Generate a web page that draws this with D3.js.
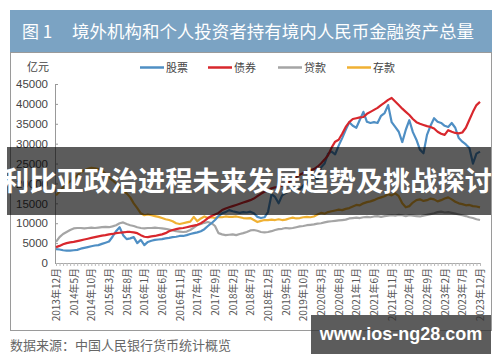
<!DOCTYPE html>
<html><head><meta charset="utf-8">
<script src="https://cdn.jsdelivr.net/npm/d3@7"></script>
<style>
html,body{margin:0;padding:0;background:#fff;}
svg{display:block;}
text{font-family:"Liberation Sans",Arial,"Noto Sans CJK SC",sans-serif;}
.cjk{font-family:"Noto Sans CJK SC","Liberation Sans",sans-serif;}
</style></head><body>
<script>
const seriesNames = ["股票","债券","贷款","存款"];
const seriesColors = ["#4f8fc4","#d8272d","#a5a5a5","#f0b133"];
const monthLabels = ["2013年12月","2014年5月","2014年10月","2015年3月","2015年8月","2016年1月","2016年6月","2016年11月","2017年4月","2017年9月","2018年2月","2018年7月","2018年12月","2019年5月","2019年10月","2020年3月","2020年8月","2021年1月","2021年6月","2021年11月","2022年4月","2022年9月","2023年2月","2023年7月","2023年12月"];
const yTicks = [0,5000,10000,15000,20000,25000,30000,35000,40000,45000];

const stocks = [3500,3400,3200,3100,3100,3200,3300,3600,3800,4000,4200,4400,4500,4800,5100,5400,6600,8000,9000,7000,6000,6200,6500,5000,5800,4500,5300,5600,5800,5900,6000,6200,6300,6500,6600,6800,6800,7000,7300,7500,7700,8000,8500,9300,10000,10800,11800,12500,12800,13300,13000,12800,12600,12800,12700,12900,12500,11600,11300,11500,12800,17300,16600,15000,17000,17600,18000,18800,19100,18500,19500,20200,21000,21800,21000,24000,25000,27500,28000,27300,29500,31400,33500,35400,34500,34000,36000,38000,35500,35200,35400,35200,37000,37700,39700,35400,34200,33000,30400,33500,35900,32900,31000,28500,27600,32200,34500,36400,35500,35200,34500,34200,35200,34000,31400,30500,29800,28900,25000,27500,28000];
const bonds = [4000,4300,4700,5000,5200,5300,5500,5700,5900,6100,6300,6500,6700,6900,7000,7200,7300,7500,7600,7700,7800,7800,7700,7500,7000,6600,6500,6700,6800,7000,7200,7500,8000,8300,8500,8700,8800,9000,9200,9400,9600,10000,10600,11300,11800,12200,12600,13300,13700,14000,14300,14600,14900,15200,15500,15800,16200,16800,17400,17900,18200,18800,19000,19100,19500,20000,20400,20900,21600,22200,22600,23000,23300,23600,24200,25000,26000,27100,29000,30500,31000,32500,34200,35400,36200,36400,36600,36700,37500,38000,38500,39000,39700,40300,41000,41500,40600,39700,38800,38000,37200,36200,35400,35000,34700,34400,34200,33800,33000,32500,32200,33400,33000,32700,32600,32800,34000,36000,38000,39700,40500];
const loans = [5300,6500,7300,7800,8300,8700,8800,8800,8700,8800,8900,8800,8900,9000,9100,9000,9200,9500,10000,10200,9800,9500,9300,9000,8800,8700,8800,8800,8900,8800,8700,8600,8400,8200,8000,7900,7800,7900,8300,8900,9500,9800,10100,10300,10000,9300,7500,7200,7000,7100,7200,7000,7300,7500,7800,8200,8300,8100,7800,7700,7800,8000,8300,8500,8600,8800,8700,8800,9000,9200,9300,9500,9600,9700,9900,10000,10200,10400,10500,10600,10700,10800,10900,11200,11300,11400,11300,11500,11600,11500,11700,11800,11600,11800,11900,12000,11900,12100,12000,11800,12000,11900,11800,11700,11900,12100,12300,12500,12800,12900,12700,12800,12600,12400,12200,12000,11800,11500,11300,11000,10800];
const deposits = [17000,18000,19000,19800,20500,21200,22000,22800,23300,23700,23900,23800,23600,23200,22500,21500,20800,20000,19000,18200,17500,16500,15000,13800,12500,12000,12200,12000,11800,11600,11300,11000,10800,10500,10000,9800,10000,10200,10400,11600,10500,11200,11700,11300,11500,11300,11600,11500,11700,11600,11600,11700,11500,11300,11200,11300,10800,10300,10600,10800,10800,10900,10800,11000,10800,10900,11200,11400,11200,11300,11500,11600,11500,11700,12200,12600,12400,12800,13000,13200,13400,13300,13600,13800,14200,14600,14500,15000,15300,15500,15800,16200,16500,16800,17300,17000,17500,16800,15000,14000,14300,15200,15800,16000,15600,15800,16200,16000,15500,15800,16200,16500,16000,15400,15000,14800,14500,14600,14300,14200,14000];

const W = 500, H = 362;
const svg = d3.select("body").append("svg").attr("width", W).attr("height", H);

// title bar
svg.append("rect").attr("x",10).attr("y",10).attr("width",482).attr("height",42).attr("fill","#7ba3c3");
svg.append("text").attr("class","cjk").attr("x",22).attr("y",38).attr("fill","#fff").attr("font-size",17)
  .text("图 1");
svg.append("text").attr("class","cjk").attr("x",72).attr("y",38).attr("fill","#fff").attr("font-size",17)
  .attr("textLength",402).attr("lengthAdjust","spacingAndGlyphs")
  .text("境外机构和个人投资者持有境内人民币金融资产总量");
// frame
svg.append("rect").attr("x",10.5).attr("y",52.5).attr("width",481).attr("height",278).attr("fill","none").attr("stroke","#9a9a9a");

const x = d3.scaleLinear().domain([0,120]).range([56,480]);
const y = d3.scaleLinear().domain([0,45000]).range([263,84]);

// y axis
const ya = svg.append("g").attr("transform","translate(55,0)")
  .call(d3.axisLeft(y).tickValues(yTicks).tickSizeInner(-3).tickSizeOuter(-3).tickPadding(7).tickFormat(d3.format("d")));
ya.select(".domain").attr("stroke","#999");
ya.selectAll(".tick line").attr("stroke","#999");
ya.selectAll("text").attr("fill","#444").attr("font-size",11.5).attr("font-family","Liberation Sans, Arial, sans-serif");
svg.append("text").attr("class","cjk").attr("x",27).attr("y",71).attr("font-size",11).attr("fill","#444").text("亿元");

// x axis minor ticks
const xa = svg.append("g").attr("transform","translate(0,263)")
  .call(d3.axisBottom(x).tickValues(d3.range(0,121)).tickSizeInner(3).tickSizeOuter(0).tickFormat(""));
xa.select(".domain").attr("stroke","#aaa");
xa.selectAll(".tick line").attr("stroke","#bbb");
// x labels
const xl = svg.append("g").attr("transform","translate(0,263)")
  .call(d3.axisBottom(x).tickValues(d3.range(0,121,5)).tickSize(0).tickFormat((d,i)=>monthLabels[i]));
xl.select(".domain").remove();
xl.selectAll("text").attr("class","cjk").attr("font-size",10).attr("fill","#555")
  .attr("transform","rotate(-90)").attr("text-anchor","end").attr("x",-5).attr("y",0).attr("dy","0.35em");

// lines
const all = [stocks,bonds,loans,deposits];
const line = d3.line().x((d,i)=>x(i)).y(d=>y(d));
const drawOrder = [2,3,0,1];
drawOrder.forEach(k=>{
  svg.append("path").datum(all[k]).attr("d",line).attr("fill","none")
    .attr("stroke",seriesColors[k]).attr("stroke-width",2.2).attr("stroke-linejoin","round");
});

// legend
const legX = [140,208,278,347];
seriesNames.forEach((n,k)=>{
  svg.append("line").attr("x1",legX[k]).attr("x2",legX[k]+24).attr("y1",67.5).attr("y2",67.5)
    .attr("stroke",seriesColors[k]).attr("stroke-width",2.5);
  svg.append("text").attr("class","cjk").attr("x",legX[k]+26).attr("y",71.5).attr("font-size",11).attr("fill","#444").text(n);
});

// source
svg.append("text").attr("class","cjk").attr("x",10).attr("y",350).attr("font-size",13).attr("fill","#666")
  .text("数据来源：中国人民银行货币统计概览");

// overlay banner
svg.append("rect").attr("x",7).attr("y",147).attr("width",484).attr("height",68).attr("fill","#000").attr("opacity",0.64);
svg.append("text").attr("class","cjk").attr("x",247).attr("y",191).attr("text-anchor","middle")
  .attr("font-size",27).attr("font-weight","bold").attr("fill","#fff")
  .attr("textLength",490).attr("lengthAdjust","spacingAndGlyphs")
  .text("利比亚政治进程未来发展趋势及挑战探讨");

// watermark
svg.append("rect").attr("x",311).attr("y",315).attr("width",180).attr("height",39).attr("fill","#333").attr("opacity",0.8);
svg.append("text").attr("x",401).attr("y",340).attr("text-anchor","middle").attr("font-size",18).attr("font-weight","bold")
  .attr("fill","#fff").attr("font-family","Open Sans, DejaVu Sans, sans-serif").text("www.ios-ng28.com");
</script>
</body></html>
